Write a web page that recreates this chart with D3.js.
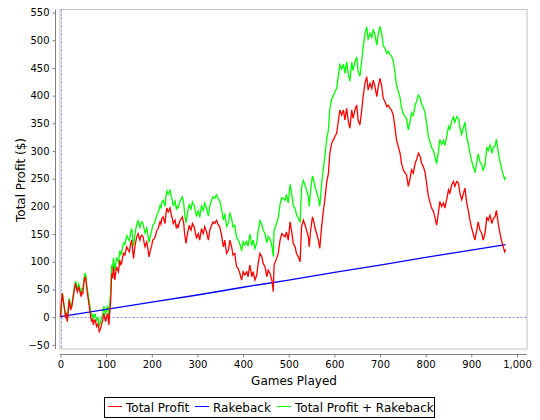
<!DOCTYPE html>
<html>
<head>
<meta charset="utf-8">
<script src="https://cdn.jsdelivr.net/npm/d3@7"></script>
<style>
  html, body { margin: 0; padding: 0; background: #ffffff; }
  svg { display: block; }
  text { font-family: "DejaVu Sans", sans-serif; fill: #000; }
</style>
</head>
<body>
<svg id="chart" width="540" height="420"></svg>
<script>
// ---------- data ----------
const games = [0,2,4,6,8,10,11,13,15,17,19,21,22,25,28,30,33,35,37,40,42,45,47,49,51,54,56,57,59,61,63,65,68,70,72,74,76,79,82,85,88,90,92,95,97,99,101,103,105,106,108,110,112,114,116,119,121,123,125,127,130,132,134,136,138,141,143,145,148,151,153,156,158,160,163,165,167,170,172,174,176,178,181,183,185,187,189,192,194,197,200,202,205,207,209,211,214,216,218,220,222,225,227,229,231,233,236,238,240,243,245,247,249,251,254,256,258,260,262,265,267,270,272,275,277,279,282,284,286,289,291,293,296,298,300,302,305,307,309,311,313,316,318,320,322,324,327,329,331,334,336,338,340,342,344,346,349,351,353,355,357,360,362,364,366,368,371,373,375,378,380,382,384,386,389,391,393,395,397,400,402,404,406,408,411,413,415,419,422,426,430,433,437,441,444,448,452,455,459,463,465,466,468,472,477,481,485,488,492,495,499,503,506,510,514,517,521,525,528,532,536,539,543,545,548,552,554,558,561,565,568,572,576,579,583,587,590,594,598,601,605,609,612,616,620,623,627,630,634,638,641,645,649,652,656,660,663,667,671,674,678,682,685,689,693,696,700,704,707,711,715,718,722,725,729,733,736,740,744,747,751,755,758,762,766,769,773,777,780,784,788,791,795,799,802,806,810,813,817,820,824,828,831,835,839,842,846,850,853,857,861,864,868,872,875,879,883,886,890,893,897,901,904,908,912,915,919,923,926,930,934,937,941,945,948,952,955,959,963,966,970,973,975];

const totalProfit = [0,25,43,30,19,8,1,5,-8,12,31,22,13,20,37,48,61,52,46,55,48,37,45,43,61,73,66,55,42,31,20,7,-8,-3,-14,-6,-5,-17,-12,-26,-20,-12,-8,7,-2,-8,0,7,-5,-14,10,31,79,70,91,67,80,91,86,82,103,95,97,108,115,112,120,127,122,118,130,139,122,106,127,137,145,151,144,139,146,148,145,135,127,132,136,120,109,121,130,139,141,145,150,157,160,166,172,168,178,181,175,169,186,197,190,193,197,184,178,169,172,175,160,166,163,170,175,178,181,169,150,133,145,154,166,160,157,169,165,163,150,142,148,151,139,150,160,154,151,163,158,154,146,139,157,162,166,172,170,169,173,175,170,166,163,155,148,136,127,139,126,115,118,121,139,133,127,112,114,115,100,91,88,84,79,72,67,82,78,76,80,82,73,85,94,73,82,67,76,97,115,109,97,91,73,85,79,67,55,46,94,103,115,139,151,148,145,154,139,172,157,133,127,115,109,100,163,175,166,157,145,127,157,181,175,160,151,139,124,163,193,211,242,260,296,314,320,326,332,356,374,365,374,356,377,356,341,374,359,374,383,356,347,374,398,422,434,410,422,413,428,416,398,416,431,416,395,389,380,383,377,374,365,341,320,308,296,278,266,260,257,236,251,266,260,278,284,296,290,278,272,260,242,218,206,197,191,181,166,188,209,200,206,197,212,230,224,239,245,236,245,242,224,212,224,233,206,194,175,160,151,139,157,172,157,151,139,151,181,175,184,169,178,181,193,169,151,139,127,118,122];

const profitPlusRakeback = [0,25,44,31,20,9,2,7,-6,14,34,25,16,23,41,52,65,57,51,60,54,43,51,50,68,80,74,63,50,39,28,16,1,6,-4,4,5,-6,-1,-15,-8,0,4,20,11,5,14,21,9,0,25,46,94,85,107,83,96,108,103,99,120,113,115,126,134,131,139,147,142,138,151,160,143,128,149,159,167,174,167,162,170,172,169,160,152,157,161,146,135,147,157,166,169,173,178,185,189,195,201,198,208,211,206,200,217,228,222,225,229,217,211,202,205,209,194,200,198,205,210,214,217,205,187,170,182,192,204,198,195,208,204,202,190,182,188,192,180,191,202,196,193,206,201,197,189,183,201,206,211,217,215,214,219,221,216,213,210,202,195,184,175,187,175,164,167,170,189,183,177,163,165,166,152,143,140,137,132,125,120,136,132,130,135,137,128,141,150,129,139,124,134,155,174,168,157,151,134,146,141,129,118,109,157,166,179,204,216,214,211,221,206,240,225,202,196,185,179,171,234,247,238,229,218,200,231,255,250,235,226,215,200,240,270,289,320,339,375,394,400,407,413,438,456,448,457,440,461,441,426,460,445,461,470,444,435,463,487,512,524,501,513,505,520,509,491,510,525,511,490,485,476,480,474,472,463,440,419,408,396,378,367,362,359,338,354,369,364,383,389,401,396,384,379,367,350,326,315,306,301,291,277,299,321,312,319,310,326,344,339,354,361,352,362,359,342,330,343,352,326,314,296,281,273,261,280,295,281,275,264,276,307,301,311,296,306,309,321,298,281,269,257,249,253];

const rakebackGames = [0,100,200,300,400,500,600,700,800,900,975];
const rakeback = [1,14,27,40,54,67,81,94,108,121,131];

const xTicks = [0,100,200,300,400,500,600,700,800,900,1000];
const yTicks = [-50,0,50,100,150,200,250,300,350,400,450,500,550];

const seriesNames = ["Total Profit", "Rakeback", "Total Profit + Rakeback"];
const seriesColors = ["#ff0000", "#0000ff", "#00ff00"];

// ---------- layout ----------
const svg = d3.select("#chart");
const plot = { left: 60.5, right: 527, top: 9.5, bottom: 349 };

const x = d3.scaleLinear().domain([0, 1022]).range([plot.left, plot.right]);
const y = d3.scaleLinear().domain([-57.5, 555.5]).range([plot.bottom, plot.top]);

// plot background + outline
svg.append("rect")
  .attr("x", plot.left - 0.5).attr("y", plot.top)
  .attr("width", plot.right - plot.left + 0.5).attr("height", plot.bottom - plot.top)
  .attr("fill", "#ffffff").attr("stroke", "#c0c0c0").attr("stroke-width", 1);

// zero lines (dashed)
svg.append("line")
  .attr("x1", plot.left).attr("x2", plot.right)
  .attr("y1", Math.round(y(0)) + 0.5).attr("y2", Math.round(y(0)) + 0.5)
  .attr("stroke", "#8c8cf0").attr("stroke-width", 1).attr("stroke-dasharray", "2,2");
svg.append("line")
  .attr("x1", Math.round(x(0)) + 0.5).attr("x2", Math.round(x(0)) + 0.5)
  .attr("y1", plot.top).attr("y2", plot.bottom)
  .attr("stroke", "#8c8cf0").attr("stroke-width", 1).attr("stroke-dasharray", "2,2");

// series
const line = d3.line().x(d => x(d[0])).y(d => y(d[1]));
const greenData = games.map((g, i) => [g, profitPlusRakeback[i]]);
const redData = games.map((g, i) => [g, totalProfit[i]]);
const blueData = rakebackGames.map((g, i) => [g, rakeback[i]]);

svg.append("path").datum(greenData).attr("d", line)
  .attr("fill", "none").attr("stroke", seriesColors[2]).attr("stroke-width", 1.3);
svg.append("path").datum(blueData).attr("d", line)
  .attr("fill", "none").attr("stroke", seriesColors[1]).attr("stroke-width", 1.3);
svg.append("path").datum(redData).attr("d", line)
  .attr("fill", "none").attr("stroke", seriesColors[0]).attr("stroke-width", 1.3);

// axes
const xAxis = d3.axisBottom(x).tickValues(xTicks).tickSize(3).tickPadding(3)
  .tickFormat(d3.format(","));
const gx = svg.append("g").attr("transform", "translate(0,354.5)").call(xAxis);
gx.select(".domain").attr("d", `M${plot.left - 0.5},0H${plot.right}`).attr("stroke", "#808080");
gx.selectAll(".tick line").attr("stroke", "#808080");
gx.selectAll(".tick text").attr("font-size", "10px").attr("font-family", "DejaVu Sans, sans-serif").attr("fill", "#000");

const yAxis = d3.axisLeft(y).tickValues(yTicks).tickSize(3).tickPadding(3);
const gy = svg.append("g").attr("transform", "translate(55.5,0)").call(yAxis);
gy.select(".domain").attr("d", `M0,${plot.top}V${plot.bottom}`).attr("stroke", "#808080");
gy.selectAll(".tick line").attr("stroke", "#808080");
gy.selectAll(".tick text").attr("font-size", "10px").attr("font-family", "DejaVu Sans, sans-serif").attr("fill", "#000");

// axis titles
svg.append("text").attr("x", 294).attr("y", 385).attr("text-anchor", "middle")
  .attr("font-size", "12px").text("Games Played");
svg.append("text").attr("transform", "translate(25,180) rotate(-90)")
  .attr("text-anchor", "middle").attr("font-size", "12px").text("Total Profit ($)");

// legend
const legend = svg.append("g");
legend.append("rect").attr("x", 104.5).attr("y", 397.5).attr("width", 330).attr("height", 20)
  .attr("fill", "#fff").attr("stroke", "#000").attr("stroke-width", 1);
const legendX = [108, 195, 277];
seriesNames.forEach((name, i) => {
  const lx = legendX[i];
  legend.append("line").attr("x1", lx).attr("x2", lx + 14).attr("y1", 406.5).attr("y2", 406.5)
    .attr("stroke", seriesColors[i]).attr("stroke-width", 1);
  legend.append("text").attr("x", lx + 18).attr("y", 411.5).attr("font-size", "12px").text(name);
});
</script>
</body>
</html>
